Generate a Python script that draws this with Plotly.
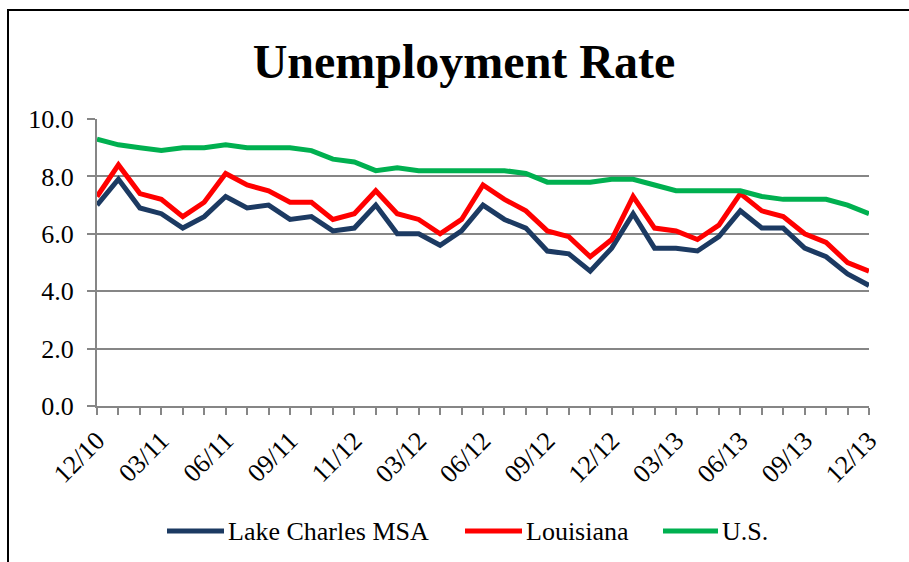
import plotly.graph_objects as go

months = ["12/10", "01/11", "02/11", "03/11", "04/11", "05/11", "06/11", "07/11", "08/11",
          "09/11", "10/11", "11/11", "12/11", "01/12", "02/12", "03/12", "04/12", "05/12",
          "06/12", "07/12", "08/12", "09/12", "10/12", "11/12", "12/12", "01/13", "02/13",
          "03/13", "04/13", "05/13", "06/13", "07/13", "08/13", "09/13", "10/13", "11/13", "12/13"]
tick_labels = ["12/10", "03/11", "06/11", "09/11", "11/12", "03/12", "06/12",
               "09/12", "12/12", "03/13", "06/13", "09/13", "12/13"]

lake_charles = [7.0, 7.9, 6.9, 6.7, 6.2, 6.6, 7.3, 6.9, 7.0, 6.5, 6.6, 6.1, 6.2,
                7.0, 6.0, 6.0, 5.6, 6.1, 7.0, 6.5, 6.2, 5.4, 5.3, 4.7, 5.5, 6.7,
                5.5, 5.5, 5.4, 5.9, 6.8, 6.2, 6.2, 5.5, 5.2, 4.6, 4.2]
louisiana = [7.3, 8.4, 7.4, 7.2, 6.6, 7.1, 8.1, 7.7, 7.5, 7.1, 7.1, 6.5, 6.7,
             7.5, 6.7, 6.5, 6.0, 6.5, 7.7, 7.2, 6.8, 6.1, 5.9, 5.2, 5.8, 7.3,
             6.2, 6.1, 5.8, 6.3, 7.4, 6.8, 6.6, 6.0, 5.7, 5.0, 4.7]
us = [9.3, 9.1, 9.0, 8.9, 9.0, 9.0, 9.1, 9.0, 9.0, 9.0, 8.9, 8.6, 8.5,
      8.2, 8.3, 8.2, 8.2, 8.2, 8.2, 8.2, 8.1, 7.8, 7.8, 7.8, 7.9, 7.9,
      7.7, 7.5, 7.5, 7.5, 7.5, 7.3, 7.2, 7.2, 7.2, 7.0, 6.7]

series_names = ["Lake Charles MSA", "Louisiana", "U.S."]
series_values = [lake_charles, louisiana, us]
colors = ["#1C3A62", "#FF0000", "#00B050"]

x = list(range(len(months)))
tick_positions = x[::3]

FONT = "Liberation Serif, Times New Roman, serif"

fig = go.Figure()
for name, vals, col in zip(series_names, series_values, colors):
    fig.add_trace(go.Scatter(x=x, y=vals, mode="lines", name=name,
                             line=dict(color=col, width=5),
                             customdata=months,
                             hovertemplate="%{customdata}: %{y:.1f}<extra>" + name + "</extra>"))

# plot area geometry (pixels) for legend/frame placement
L, R, T, B = 97, 869, 119, 406
W, H = R - L, B - T


def px_x(p):
    return (p - L) / W


def px_y(p):
    return (B - p) / H


shapes = [dict(type="rect", xref="paper", yref="paper",
               x0=px_x(8), x1=px_x(915), y0=px_y(570), y1=px_y(10),
               line=dict(color="black", width=2), fillcolor="rgba(0,0,0,0)", layer="below")]
annotations = []
legend_lines = [(167, 224), (465, 522), (663, 718)]
leg_y = 531
for (a, b), name, col in zip(legend_lines, series_names, colors):
    shapes.append(dict(type="line", xref="paper", yref="paper",
                       x0=px_x(a), x1=px_x(b), y0=px_y(leg_y), y1=px_y(leg_y),
                       line=dict(color=col, width=5)))
    annotations.append(dict(xref="paper", yref="paper", x=px_x(b + 2), y=px_y(leg_y),
                            xanchor="left", yanchor="middle", text=name, showarrow=False,
                            font=dict(family=FONT, size=26, color="black")))

fig.update_layout(
    width=909, height=562,
    margin=dict(l=L, r=909 - R, t=T, b=562 - B, pad=0),
    paper_bgcolor="white", plot_bgcolor="white",
    showlegend=False,
    title=dict(text="<b>Unemployment Rate</b>", x=464 / 909, xanchor="center",
               y=1 - 61 / 562, yanchor="middle", yref="container",
               font=dict(family=FONT, size=48, color="black")),
    shapes=shapes, annotations=annotations,
    font=dict(family=FONT, color="black"),
)
fig.update_xaxes(range=[0, len(months) - 1], tickmode="array", tickvals=tick_positions,
                 ticktext=tick_labels, tickangle=-45, ticks="outside", ticklen=7,
                 tickcolor="#868686", tickwidth=2, showline=True, linecolor="#868686",
                 linewidth=2, showgrid=False, zeroline=False,
                 tickfont=dict(family=FONT, size=26, color="black"),
                 minor=dict(dtick=1, tick0=0, ticks="outside", ticklen=7,
                            tickcolor="#868686", tickwidth=2, showgrid=False))
fig.update_yaxes(range=[0, 10], dtick=2, tickformat=".1f", ticks="outside", ticklen=8,
                 tickcolor="#868686", tickwidth=2, showline=True, linecolor="#868686",
                 linewidth=2, showgrid=True, gridcolor="#868686", gridwidth=2,
                 zeroline=False, ticklabelstandoff=8,
                 tickfont=dict(family=FONT, size=26, color="black"))

fig.write_html("out.html")
